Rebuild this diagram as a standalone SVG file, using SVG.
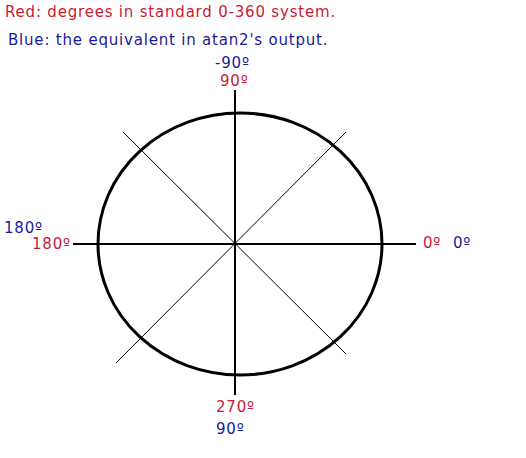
<svg xmlns="http://www.w3.org/2000/svg" width="526" height="458" viewBox="0 0 526 458">
<style>
text { font-family: "DejaVu Sans", Verdana, sans-serif; font-size: 15px; letter-spacing: 0.8px; }
.r { fill: #cc1a33; }
.b { fill: #1a1a99; }
.axis { stroke: #000; stroke-width: 2; fill: none; }
.diag { stroke: #000; stroke-width: 1; fill: none; }
.circ { stroke: #000; stroke-width: 3; fill: none; }
</style>
<rect width="526" height="458" fill="#fff"/>
<g id="legend">
<text class="r" x="5" y="17">Red: degrees in standard 0-360 system.</text>
<text class="b" x="8" y="45">Blue: the equivalent in atan2's output.</text>
</g>
<g id="circle">
<ellipse class="circ" cx="240" cy="244" rx="142" ry="131"/>
</g>
<g id="connectors">
<line class="axis" x1="235" y1="90" x2="235" y2="395"/>
<line class="axis" x1="73" y1="244" x2="416" y2="244"/>
<line class="diag" x1="123" y1="132" x2="346" y2="354"/>
<line class="diag" x1="346" y1="132" x2="116" y2="363"/>
</g>
<g id="label-top">
<text class="b" x="215" y="67.5">-90º</text>
<text class="r" x="220" y="86">90º</text>
</g>
<g id="label-left">
<text class="b" x="4" y="233">180º</text>
<text class="r" x="32" y="249">180º</text>
</g>
<g id="label-right">
<text class="r" x="423" y="248">0º</text>
<text class="b" x="453" y="248">0º</text>
</g>
<g id="label-bottom">
<text class="r" x="216" y="412">270º</text>
<text class="b" x="216" y="434">90º</text>
</g>
</svg>
